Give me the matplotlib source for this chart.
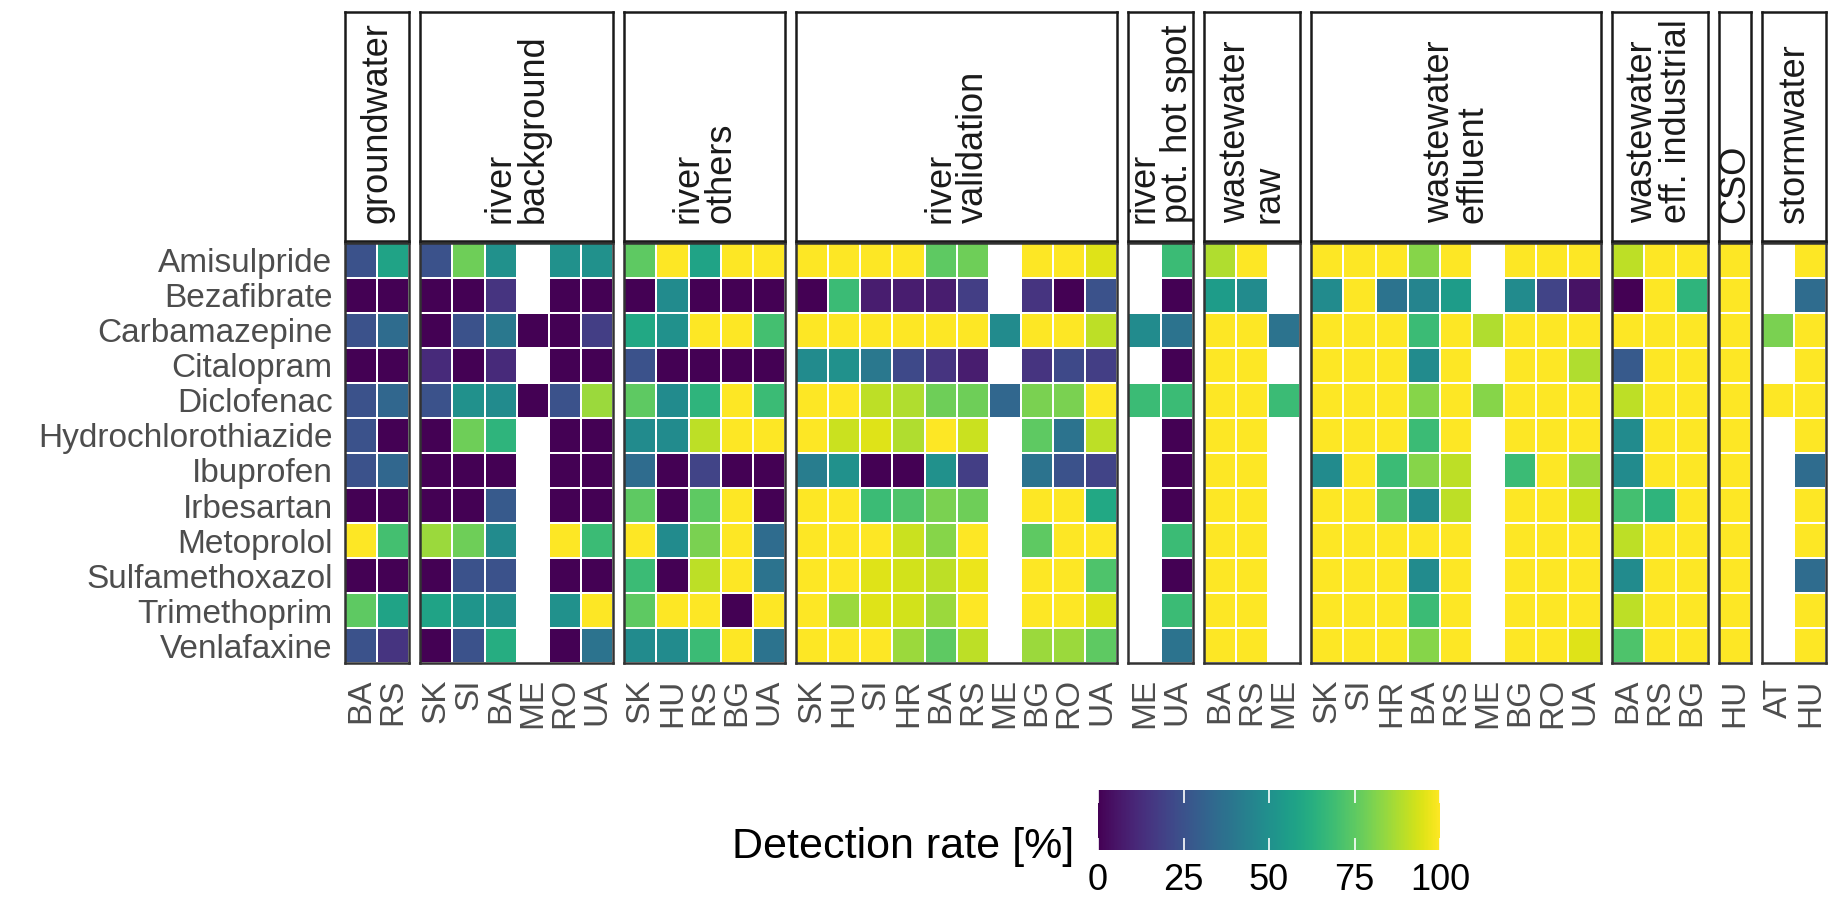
import numpy as np
import matplotlib
matplotlib.use("Agg")
import matplotlib.pyplot as plt
from matplotlib.cm import ScalarMappable
from matplotlib.colors import Normalize

na = np.nan

drugs = ["Amisulpride", "Bezafibrate", "Carbamazepine", "Citalopram", "Diclofenac",
         "Hydrochlorothiazide", "Ibuprofen", "Irbesartan", "Metoprolol",
         "Sulfamethoxazol", "Trimethoprim", "Venlafaxine"]

group_labels = ["groundwater", "river\nbackground", "river\nothers", "river\nvalidation",
                "river\npot. hot spot", "wastewater\nraw", "wastewater\neffluent",
                "wastewater\neff. industrial", "CSO", "stormwater"]

gw_sites = ["BA", "RS"]
gw = [[25, 58], [0, 0], [25, 35], [0, 0], [25, 33], [25, 0],
      [25, 33], [0, 0], [100, 70], [0, 0], [75, 58], [25, 15]]

bg_sites = ["SK", "SI", "BA", "ME", "RO", "UA"]
riv_bg = [[25, 78, 50, na, 50, 50],
          [0, 0, 15, na, 0, 0],
          [0, 25, 40, 0, 0, 18],
          [12, 0, 12, na, 0, 0],
          [25, 50, 48, 0, 25, 85],
          [0, 78, 65, na, 0, 0],
          [0, 0, 0, na, 0, 0],
          [0, 0, 28, na, 0, 0],
          [85, 78, 48, na, 100, 68],
          [0, 25, 25, na, 0, 0],
          [58, 52, 50, na, 50, 100],
          [0, 25, 62, na, 0, 38]]

oth_sites = ["SK", "HU", "RS", "BG", "UA"]
riv_oth = [[75, 100, 58, 100, 100],
           [0, 48, 0, 0, 0],
           [60, 50, 100, 100, 70],
           [25, 0, 0, 0, 0],
           [75, 48, 65, 100, 68],
           [48, 48, 90, 100, 100],
           [35, 0, 20, 0, 0],
           [75, 0, 75, 100, 0],
           [100, 48, 80, 100, 35],
           [68, 0, 90, 100, 38],
           [75, 100, 100, 0, 100],
           [48, 48, 68, 100, 38]]

val_sites = ["SK", "HU", "SI", "HR", "BA", "RS", "ME", "BG", "RO", "UA"]
riv_val = [[100, 100, 100, 100, 75, 78, na, 100, 100, 95],
           [0, 68, 8, 8, 8, 18, na, 15, 0, 25],
           [100, 100, 100, 100, 100, 100, 48, 100, 100, 90],
           [48, 50, 40, 22, 15, 8, na, 15, 22, 18],
           [100, 100, 90, 88, 78, 78, 33, 80, 80, 100],
           [100, 92, 95, 88, 100, 92, na, 75, 38, 90],
           [42, 50, 0, 0, 50, 18, na, 38, 25, 20],
           [100, 100, 68, 72, 80, 78, na, 100, 100, 60],
           [100, 100, 100, 92, 82, 100, na, 75, 100, 100],
           [100, 100, 95, 93, 90, 97, na, 100, 100, 72],
           [100, 85, 95, 93, 85, 100, na, 100, 100, 95],
           [100, 100, 100, 85, 75, 90, na, 85, 85, 75]]

hot_sites = ["ME", "UA"]
riv_hot = [[na, 68], [na, 0], [48, 38], [na, 0], [68, 68], [na, 0],
           [na, 0], [na, 0], [na, 68], [na, 0], [na, 68], [na, 38]]

raw_sites = ["BA", "RS", "ME"]
ww_raw = [[88, 100, na], [55, 48, na], [100, 100, 38], [100, 100, na],
          [100, 100, 68], [100, 100, na], [100, 100, na], [100, 100, na],
          [100, 100, na], [100, 100, na], [100, 100, na], [100, 100, na]]

eff_sites = ["SK", "SI", "HR", "BA", "RS", "ME", "BG", "RO", "UA"]
ww_eff = [[100, 100, 100, 82, 100, na, 100, 100, 100],
          [48, 100, 38, 45, 55, na, 48, 20, 5],
          [100, 100, 100, 68, 100, 88, 100, 100, 100],
          [100, 100, 100, 48, 100, na, 100, 100, 88],
          [100, 100, 100, 82, 100, 82, 100, 100, 100],
          [100, 100, 100, 68, 100, na, 100, 100, 100],
          [48, 100, 68, 82, 90, na, 68, 100, 85],
          [100, 100, 75, 48, 90, na, 100, 100, 92],
          [100, 100, 100, 100, 100, na, 100, 100, 100],
          [100, 100, 100, 48, 100, na, 100, 100, 100],
          [100, 100, 100, 68, 100, na, 100, 100, 100],
          [100, 100, 100, 82, 100, na, 100, 100, 95]]

ind_sites = ["BA", "RS", "BG"]
ww_ind = [[90, 100, 100], [0, 100, 65], [100, 100, 100], [28, 100, 100],
          [90, 100, 100], [48, 100, 100], [48, 100, 100], [70, 65, 100],
          [90, 100, 100], [48, 100, 100], [90, 100, 100], [72, 100, 100]]

cso_sites = ["HU"]
cso = [[100]] * 12

storm_sites = ["AT", "HU"]
storm = [[na, 100], [na, 35], [80, 100], [na, 100], [100, 100], [na, 100],
         [na, 35], [na, 100], [na, 100], [na, 35], [na, 100], [na, 100]]

sites = [gw_sites, bg_sites, oth_sites, val_sites, hot_sites, raw_sites,
         eff_sites, ind_sites, cso_sites, storm_sites]
values = [gw, riv_bg, riv_oth, riv_val, riv_hot, ww_raw, ww_eff, ww_ind, cso, storm]

# layout in pixels
W, H = 1844, 908
x0, cw, gap = 345, 32.15, 11
ptop, pbot = 243, 663
stop, sbot = 12, 241

plt.rcParams["font.family"] = ["Liberation Sans", "DejaVu Sans"]
fig = plt.figure(figsize=(W / 100, H / 100), dpi=100)

def fr(x, y, w, h):
    return [x / W, 1 - (y + h) / H, w / W, h / H]

norm = Normalize(0, 100)
x = x0
for i, (lab, st, vals) in enumerate(zip(group_labels, sites, values)):
    arr = np.ma.masked_invalid(np.array(vals, dtype=float))
    n = len(st)
    pw = n * cw
    ax = fig.add_axes(fr(x, ptop, pw, pbot - ptop))
    ax.pcolormesh(arr, cmap="viridis", norm=norm, edgecolors="white", linewidth=1.2)
    ax.set_xlim(0, n)
    ax.set_ylim(len(drugs), 0)
    ax.set_xticks(np.arange(n) + 0.5)
    ax.set_xticklabels(st, rotation=90, fontsize=24, color="#4D4D4D")
    ax.tick_params(length=0, pad=11)
    if i == 0:
        ax.set_yticks(np.arange(len(drugs)) + 0.5)
        ax.set_yticklabels(drugs, fontsize=24, color="#4D4D4D")
        ax.tick_params(axis="y", pad=9)
    else:
        ax.set_yticks([])
    for s in ax.spines.values():
        s.set_color("#333333")
        s.set_linewidth(1.8)

    sax = fig.add_axes(fr(x, stop, pw, sbot - stop))
    sax.set_xticks([])
    sax.set_yticks([])
    for s in sax.spines.values():
        s.set_color("#1A1A1A")
        s.set_linewidth(1.8)
    sax.text(0.5, 0.08, lab, rotation=90, ha="center", va="bottom",
             multialignment="left", fontsize=26, color="#1A1A1A",
             transform=sax.transAxes, linespacing=0.95)

    x += pw + gap

# colour bar legend
cax = fig.add_axes(fr(1098, 790, 342, 60))
cb = fig.colorbar(ScalarMappable(norm=norm, cmap="viridis"), cax=cax,
                  orientation="horizontal", ticks=[0, 25, 50, 75, 100])
cb.outline.set_visible(False)
cax.tick_params(axis="x", direction="in", color="white", length=9, width=1.2,
                top=True, bottom=True, labelsize=26, pad=9)
fig.text(1074 / W, 1 - 847 / H, "Detection rate [%]", ha="right", va="center",
         fontsize=31)

fig.savefig("out.png", dpi=100, facecolor="white")
